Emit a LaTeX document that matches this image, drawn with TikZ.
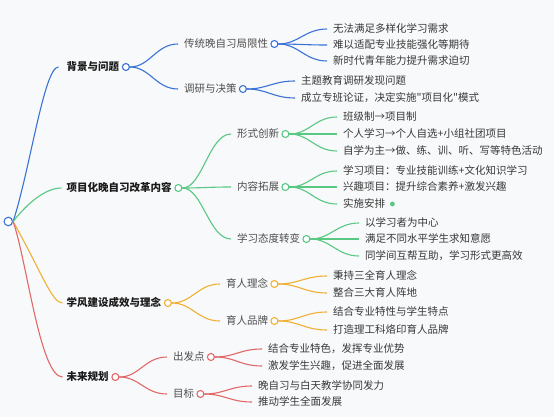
\documentclass[tikz,border=0pt]{standalone}
\usepackage{fontspec}
\setmainfont{Noto Sans CJK SC}[Ligatures=TeXOff]
\definecolor{bgc}{HTML}{F8F9FB}
\definecolor{cblue}{HTML}{3A72D6}
\definecolor{cgreen}{HTML}{58C882}
\definecolor{corange}{HTML}{F0B032}
\definecolor{cred}{HTML}{E26868}
\definecolor{tone}{HTML}{1A1A1A}
\definecolor{ttwo}{HTML}{4E4E4E}
\definecolor{tthree}{HTML}{383838}
\newcommand\mlink[3]{\draw[#1] (#2.east) .. controls +(20,0) and +(-22,0) .. ([xshift=-6pt]#3.west);}
\begin{document}
\begin{tikzpicture}[x=1pt,y=-1pt,
  base/.style={anchor=west,inner sep=0pt,text height=8.6pt,text depth=2pt,font=\fontsize{10.5}{12}\selectfont},
  lone/.style={base,text=tone,font=\fontsize{10.5}{12}\selectfont\bfseries},
  ltwo/.style={base,text=ttwo},
  lthree/.style={base,text=tthree},
  circ/.style={circle,draw=#1,fill=white,line width=1.1pt,minimum size=7pt,inner sep=0pt},
  edge/.style={draw=#1,line width=1.1pt}]
\fill[bgc] (0,0) rectangle (554,417);
\useasboundingbox (0,0) rectangle (554,417);

% level 1
\node[lone] (b1) at (66.5,67) {背景与问题};
\node[lone] (b2) at (66.5,188) {项目化晚自习改革内容};
\node[lone] (b3) at (66.5,303) {学风建设成效与理念};
\node[lone] (b4) at (66.5,377) {未来规划};

% level 2
\node[ltwo] (c11) at (184,44) {传统晚自习局限性};
\node[ltwo] (c12) at (184,89) {调研与决策};
\node[ltwo] (c21) at (237,134) {形式创新};
\node[ltwo] (c22) at (237,187) {内容拓展};
\node[ltwo] (c23) at (237,239) {学习态度转变};
\node[ltwo] (c31) at (226,284) {育人理念};
\node[ltwo] (c32) at (226,321) {育人品牌};
\node[ltwo] (c41) at (173,357) {出发点};
\node[ltwo] (c42) at (173,394) {目标};

% level 3
\node[lthree] (d111) at (333,29) {无法满足多样化学习需求};
\node[lthree] (d112) at (333,45) {难以适配专业技能强化等期待};
\node[lthree] (d113) at (333,61) {新时代青年能力提升需求迫切};
\node[lthree] (d121) at (301,81) {主题教育调研发现问题};
\node[lthree] (d122) at (301,98) {成立专班论证，决定实施"项目化"模式};
\node[lthree] (d211) at (343,117) {班级制→项目制};
\node[lthree] (d212) at (343,134) {个人学习→个人自选+小组社团项目};
\node[lthree] (d213) at (343,151) {自学为主→做、练、训、听、写等特色活动};
\node[lthree] (d221) at (343,171) {学习项目：专业技能训练+文化知识学习};
\node[lthree] (d222) at (343,187) {兴趣项目：提升综合素养+激发兴趣};
\node[lthree] (d223) at (343,204) {实施安排};
\node[lthree] (d231) at (365,223) {以学习者为中心};
\node[lthree] (d232) at (365,239) {满足不同水平学生求知意愿};
\node[lthree] (d233) at (365,256) {同学间互帮互助，学习形式更高效};
\node[lthree] (d311) at (333,276) {秉持三全育人理念};
\node[lthree] (d312) at (333,293) {整合三大育人阵地};
\node[lthree] (d321) at (333,312) {结合专业特性与学生特点};
\node[lthree] (d322) at (333,330) {打造理工科烙印育人品牌};
\node[lthree] (d411) at (268,349) {结合专业特色，发挥专业优势};
\node[lthree] (d412) at (268,366) {激发学生兴趣，促进全面发展};
\node[lthree] (d421) at (258,386) {晚自习与白天教学协同发力};
\node[lthree] (d422) at (258,402) {推动学生全面发展};

\fill[cgreen] ([xshift=7pt]d223.east) circle (2.4pt);

% circle positions
\coordinate (rootc) at (8.3,221.5);
\coordinate (b1p) at ([xshift=6.5pt]b1.east);
\coordinate (b2p) at ([xshift=6.5pt]b2.east);
\coordinate (b3p) at ([xshift=6.5pt]b3.east);
\coordinate (b4p) at ([xshift=6.5pt]b4.east);
\coordinate (c11p) at ([xshift=6pt]c11.east);
\coordinate (c12p) at ([xshift=6pt]c12.east);
\coordinate (c21p) at ([xshift=6pt]c21.east);
\coordinate (c22p) at ([xshift=6pt]c22.east);
\coordinate (c23p) at ([xshift=6pt]c23.east);
\coordinate (c31p) at ([xshift=6pt]c31.east);
\coordinate (c32p) at ([xshift=6pt]c32.east);
\coordinate (c41p) at ([xshift=6pt]c41.east);
\coordinate (c42p) at ([xshift=6pt]c42.east);

\node[circ=cblue,minimum size=8.5pt] (root) at (rootc) {};
\foreach \n/\c in {b1/cblue,b2/cgreen,b3/corange,b4/cred,c11/cblue,c12/cblue,c21/cgreen,c22/cgreen,c23/cgreen,c31/corange,c32/corange,c41/cred,c42/cred}
  \node[circ=\c] (\n c) at (\n p) {};

% root edges
\draw[edge=cblue] (root.east) .. controls (30,170) and (44,67) .. ([xshift=-8pt]b1.west);
\draw[edge=cgreen] (root.east) .. controls (22,210) and (42,188) .. ([xshift=-5pt]b2.west);
\draw[edge=corange] (root.east) .. controls (42,273) and (52,303) .. ([xshift=-4pt]b3.west);
\draw[edge=cred] (root.east) .. controls (27,261) and (40,377) .. ([xshift=-4pt]b4.west);

% level 1 -> level 2
\mlink{edge=cblue}{b1c}{c11}
\mlink{edge=cblue}{b1c}{c12}
\mlink{edge=cgreen}{b2c}{c21}
\mlink{edge=cgreen}{b2c}{c22}
\mlink{edge=cgreen}{b2c}{c23}
\mlink{edge=corange}{b3c}{c31}
\mlink{edge=corange}{b3c}{c32}
\mlink{edge=cred}{b4c}{c41}
\mlink{edge=cred}{b4c}{c42}

% level 2 -> level 3
\mlink{edge=cblue}{c11c}{d111}
\mlink{edge=cblue}{c11c}{d112}
\mlink{edge=cblue}{c11c}{d113}
\mlink{edge=cblue}{c12c}{d121}
\mlink{edge=cblue}{c12c}{d122}
\mlink{edge=cgreen}{c21c}{d211}
\mlink{edge=cgreen}{c21c}{d212}
\mlink{edge=cgreen}{c21c}{d213}
\mlink{edge=cgreen}{c22c}{d221}
\mlink{edge=cgreen}{c22c}{d222}
\mlink{edge=cgreen}{c22c}{d223}
\mlink{edge=cgreen}{c23c}{d231}
\mlink{edge=cgreen}{c23c}{d232}
\mlink{edge=cgreen}{c23c}{d233}
\mlink{edge=corange}{c31c}{d311}
\mlink{edge=corange}{c31c}{d312}
\mlink{edge=corange}{c32c}{d321}
\mlink{edge=corange}{c32c}{d322}
\mlink{edge=cred}{c41c}{d411}
\mlink{edge=cred}{c41c}{d412}
\mlink{edge=cred}{c42c}{d421}
\mlink{edge=cred}{c42c}{d422}
\end{tikzpicture}
\end{document}
